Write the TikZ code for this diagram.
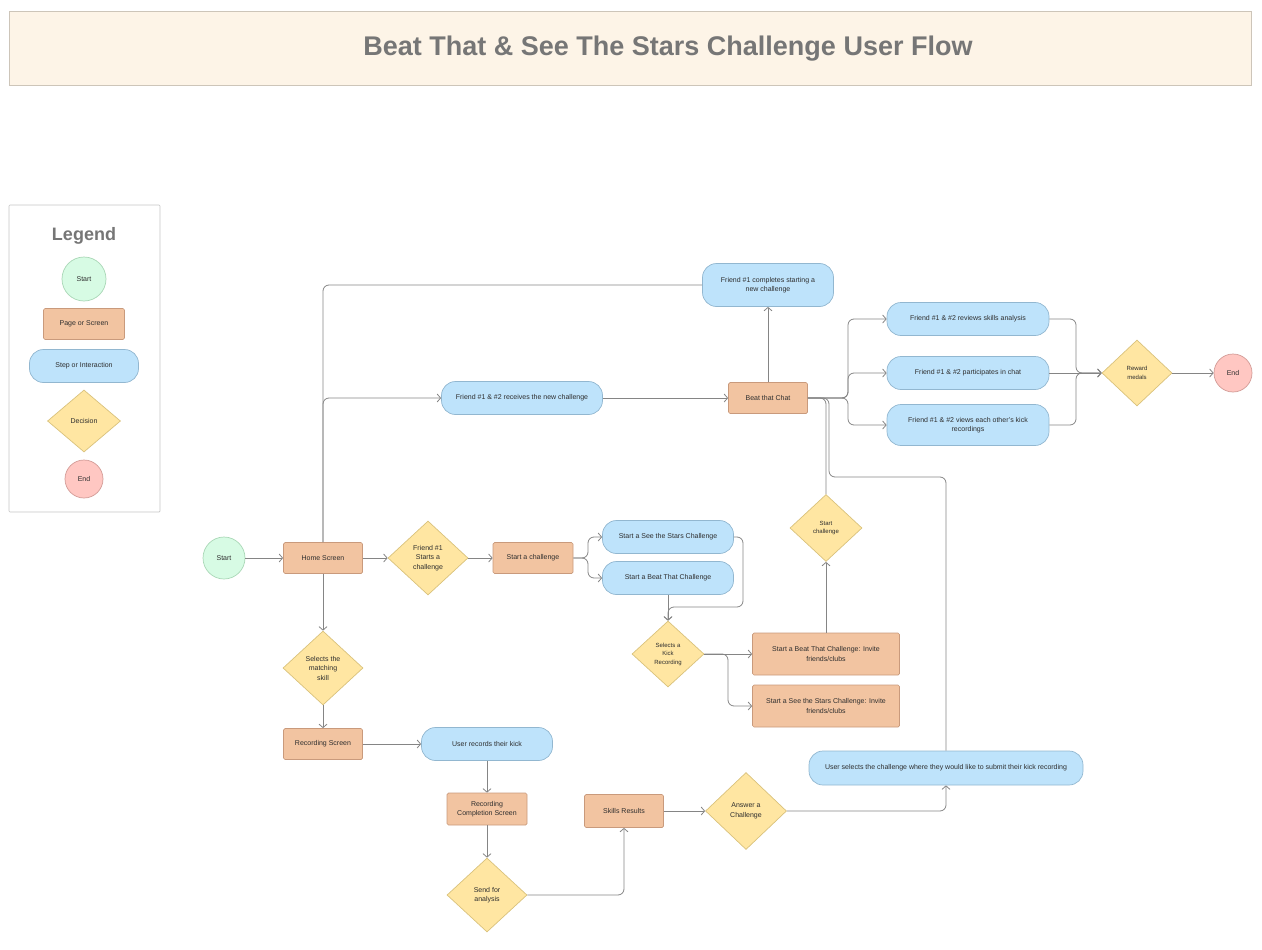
\documentclass[tikz,border=0pt]{standalone}
\usepackage{fontspec}
\setmainfont{Liberation Sans}
\usetikzlibrary{arrows.meta,shapes.geometric}
\definecolor{titlefill}{HTML}{FDF4E7}
\definecolor{titledraw}{HTML}{CDC5B9}
\definecolor{titletext}{HTML}{767676}
\definecolor{legenddraw}{HTML}{C6C6C6}
\definecolor{startfill}{HTML}{D7FBE4}
\definecolor{startdraw}{HTML}{A9D7B6}
\definecolor{pagefill}{HTML}{F2C4A1}
\definecolor{pagedraw}{HTML}{C99A7C}
\definecolor{stepfill}{HTML}{BEE3FB}
\definecolor{stepdraw}{HTML}{92B7D0}
\definecolor{decfill}{HTML}{FFE6A2}
\definecolor{decdraw}{HTML}{D9C27C}
\definecolor{endfill}{HTML}{FFC7C2}
\definecolor{enddraw}{HTML}{D29B96}
\definecolor{flowline}{HTML}{858585}
\definecolor{labeltext}{HTML}{2E2E2E}
\tikzset{
	box/.style={draw, line width=0.7pt, text=labeltext, font=\fontsize{7}{9.5}\selectfont, align=center, inner sep=0pt},
	small/.style={font=\fontsize{6}{8.5}\selectfont},
	startnode/.style={box, circle, fill=startfill, draw=startdraw, minimum size=42pt},
	endnode/.style={box, circle, fill=endfill, draw=enddraw, minimum size=38pt},
	screen/.style={box, rectangle, rounded corners=1.5pt, fill=pagefill, draw=pagedraw, minimum width=#1, minimum height=31pt},
	screen/.default=79pt,
	stepnode/.style={box, rectangle, rounded corners=14pt, fill=stepfill, draw=stepdraw, minimum width=#1, minimum height=33pt},
	stepnode/.default=131pt,
	decision/.style={box, diamond, fill=decfill, draw=decdraw, minimum width=80pt, minimum height=74pt},
	flow/.style={draw=flowline, line width=0.8pt, rounded corners=6pt}
}

\begin{document}
\begin{tikzpicture}[x=1pt, y=-1pt, >={Straight Barb[length=3.5pt,width=8pt]}]
	\useasboundingbox (0,0) rectangle (1262,950);

	\draw[titledraw, fill=titlefill, line width=0.7pt] (9,11) rectangle (1251,85);
	\node[font=\bfseries\fontsize{27}{30}\selectfont, text=titletext] (title) at (668,49) {Beat That \& See The Stars Challenge User Flow};

	\draw[legenddraw, fill=white, line width=0.7pt, rounded corners=1pt] (9,205) rectangle (160,512);
	\node[font=\bfseries\fontsize{18}{20}\selectfont, text=titletext] (legend) at (84,236) {Legend};
	\node[startnode, minimum size=44pt] (lstart) at (84,279) {Start};
	\node[screen=81pt] (lscreen) at (84,324) {Page or Screen};
	\node[stepnode=109pt] (lstep) at (84,366) {Step or Interaction};
	\node[decision, minimum width=73pt, minimum height=62pt] (ldecision) at (84,421) {Decision};
	\node[endnode] (lend) at (84,479) {End};

	\node[startnode] (start) at (224,558) {Start};
	\node[screen] (home) at (323,558) {Home Screen};
	\node[decision] (starts) at (428,558) {Friend \#1\\Starts a\\challenge};
	\node[screen=80pt] (startch) at (533,558) {Start a challenge};
	\node[stepnode] (sts) at (668,537) {Start a See the Stars Challenge};
	\node[stepnode] (btc) at (668,578) {Start a Beat That Challenge};
	\node[decision, minimum width=72pt, minimum height=66pt, small] (kick) at (668,654) {Selects a\\Kick\\Recording};
	\node[screen=147pt, minimum height=42pt] (invbt) at (826,654) {Start a Beat That Challenge: Invite\\friends/clubs};
	\node[screen=147pt, minimum height=42pt] (invss) at (826,706) {Start a See the Stars Challenge: Invite\\friends/clubs};
	\node[decision, minimum width=72pt, minimum height=67pt, small] (startc) at (826,528) {Start\\challenge};

	\node[stepnode=161pt] (receive) at (522,398) {Friend \#1 \& \#2 receives the new challenge};
	\node[screen] (chat) at (768,398) {Beat that Chat};
	\node[stepnode, minimum height=43pt] (done) at (768,285) {Friend \#1 completes starting a\\new challenge};
	\node[stepnode=162pt] (review) at (968,319) {Friend \#1 \& \#2 reviews skills analysis};
	\node[stepnode=162pt] (talk) at (968,373) {Friend \#1 \& \#2 participates in chat};
	\node[stepnode=162pt, minimum height=41pt] (views) at (968,425) {Friend \#1 \& \#2 views each other's kick\\recordings};
	\node[decision, minimum width=70pt, minimum height=66pt, small] (reward) at (1137,373) {Reward\\medals};
	\node[endnode] (stop) at (1233,373) {End};

	\node[decision] (skill) at (323,668) {Selects the\\matching\\skill};
	\node[screen] (recs) at (323,744) {Recording Screen};
	\node[stepnode] (urec) at (487,744) {User records their kick};
	\node[screen=80pt, minimum height=32pt] (recc) at (487,809) {Recording\\Completion Screen};
	\node[decision] (send) at (487,895) {Send for\\analysis};
	\node[screen, minimum height=33pt] (skres) at (624,811) {Skills Results};
	\node[decision, minimum width=81pt, minimum height=77pt] (answer) at (746,811) {Answer a\\Challenge};
	\node[stepnode=274pt, minimum height=34pt] (usel) at (946,768) {User selects the challenge where they would like to submit their kick recording};

	\draw[flow,->] (start) to (home);
	\draw[flow,->] (home) to (starts);
	\draw[flow,->] (starts) to (startch);
	\draw[flow,->] (startch.east) -- (588,558) |- (sts.west);
	\draw[flow,->] (startch.east) -- (588,558) |- (btc.west);
	\draw[flow,->] (sts.east) -| (743,607) -| (kick.north);
	\draw[flow,->] (btc) to (kick);
	\draw[flow,->] (kick) to (invbt);
	\draw[flow,->] (kick.east) -- (728,654) |- (invss.west);
	\draw[flow,->] (invbt) to (startc);
	\draw[flow] (startc.north) |- (chat.east);
	\draw[flow] (usel.north) |- (829,477) |- (chat.east);

	\draw[flow] (done.west) -| (home.north);
	\draw[flow,->] (home.north) |- (receive.west);
	\draw[flow,->] (receive) to (chat);
	\draw[flow,->] (chat) to (done);
	\draw[flow,->] (chat.east) -- (848,398) |- (review.west);
	\draw[flow,->] (chat.east) -- (848,398) |- (talk.west);
	\draw[flow,->] (chat.east) -- (848,398) |- (views.west);
	\draw[flow,->] (review.east) -| (1076,373) -- (reward.west);
	\draw[flow,->] (talk) to (reward);
	\draw[flow,->] (views.east) -| (1076,373) -- (reward.west);
	\draw[flow,->] (reward) to (stop);

	\draw[flow,->] (home) to (skill);
	\draw[flow,->] (skill) to (recs);
	\draw[flow,->] (recs) to (urec);
	\draw[flow,->] (urec) to (recc);
	\draw[flow,->] (recc) to (send);
	\draw[flow,->] (send.east) -| (skres.south);
	\draw[flow,->] (skres) to (answer);
	\draw[flow,->] (answer.east) -| (usel.south);
\end{tikzpicture}
\end{document}
